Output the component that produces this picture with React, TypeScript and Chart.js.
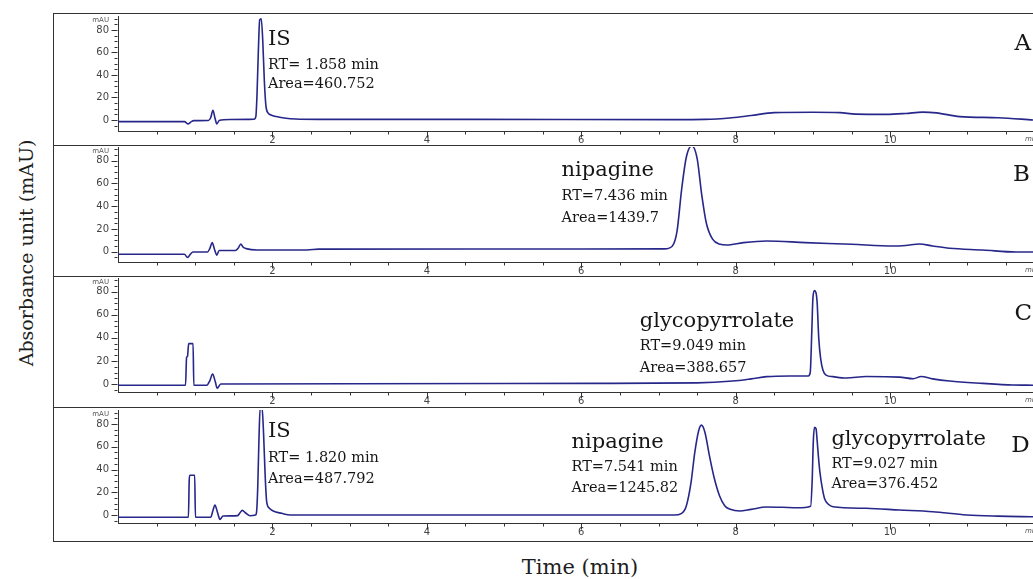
import React, { useEffect, useRef } from "react";
import { Chart, registerables } from "chart.js";

Chart.register(...registerables);

// ---------- data (time in min, absorbance in mAU) ----------
const timeA = [0, 0.86, 0.91, 0.95, 0.98, 1.17, 1.2, 1.23, 1.255, 1.28, 1.31, 1.45, 1.76, 1.785, 1.8, 1.818, 1.835, 1.855, 1.875, 1.895, 1.915, 1.94, 1.98, 2.05, 2.15, 2.3, 2.6, 4.5, 7.2, 7.6, 7.95, 8.2, 8.5, 9.0, 9.35, 9.55, 9.95, 10.2, 10.42, 10.6, 10.9, 11.4, 11.85];
const absA = [-1.5, -1.5, -3.5, -1.5, -0.6, -0.5, 2, 8.6, 2, -3.5, -0.5, 0.4, 0.6, 3, 22, 62, 89, 90, 70, 35, 13, 6.5, 4.5, 3, 1.8, 0.8, 0.5, 0.5, 0.3, 0.5, 2, 4, 6.5, 6.8, 6.5, 5.2, 5, 5.8, 7, 6.3, 3, 2, 0];

const timeB = [0, 0.86, 0.9, 0.94, 0.97, 1.16, 1.19, 1.22, 1.25, 1.28, 1.31, 1.52, 1.56, 1.59, 1.62, 1.66, 1.8, 2.45, 2.6, 4.5, 7.08, 7.18, 7.24, 7.3, 7.36, 7.43, 7.5, 7.56, 7.62, 7.7, 7.8, 7.88, 8.1, 8.4, 8.9, 9.5, 10.04, 10.2, 10.38, 10.55, 10.77, 11.2, 11.63, 11.85];
const absB = [-2.3, -2.3, -5, -2, -0.3, -0.2, 3, 8, 2, -3, 1, 1, 3.5, 6.8, 4, 2.7, 1.5, 1.5, 2.3, 2.4, 2.5, 5, 18, 55, 83, 93, 82, 50, 25, 11, 6.5, 5.9, 8, 9.4, 8, 6.5, 5, 5.5, 6.8, 5, 3, 1.5, -0.3, -0.3];

const timeC = [0, 0.875, 0.888, 0.9, 0.915, 0.972, 0.982, 1.15, 1.19, 1.225, 1.26, 1.285, 1.33, 3, 6.2, 7.5, 7.96, 8.2, 8.4, 8.7, 8.94, 8.965, 8.985, 9.0, 9.02, 9.04, 9.055, 9.075, 9.1, 9.13, 9.17, 9.26, 9.43, 9.69, 10.12, 10.3, 10.4, 10.55, 10.77, 11.2, 11.59, 11.85];
const absC = [-1, -1, 23, 24, 35, 35, -1, -1, 3, 8.7, 2, -3.7, 0, 0.2, 0.6, 1, 2.6, 4.5, 6.4, 7, 7, 10, 45, 75, 81, 79, 70, 40, 22, 12, 7.8, 6.4, 5.2, 6.5, 6, 4.6, 6.5, 4.5, 2.6, 0.6, -0.8, -1];

const timeD = [0, 0.912, 0.922, 0.93, 0.993, 1.003, 1.2, 1.23, 1.255, 1.29, 1.32, 1.36, 1.55, 1.58, 1.61, 1.65, 1.71, 1.78, 1.795, 1.81, 1.826, 1.842, 1.865, 1.885, 1.905, 1.925, 1.96, 2.01, 2.12, 2.23, 4.5, 7.2, 7.3, 7.36, 7.42, 7.47, 7.52, 7.555, 7.6, 7.66, 7.72, 7.79, 7.86, 7.93, 8.05, 8.2, 8.4, 8.6, 8.8, 8.97, 8.99, 9.005, 9.02, 9.04, 9.055, 9.075, 9.09, 9.12, 9.15, 9.2, 9.26, 9.69, 10.12, 10.55, 10.99, 11.4, 11.85];
const absD = [-2, -2, 30, 35, 35, -2, -2, 4, 8.8, 2, -3.8, -0.9, -0.5, 2, 4.1, 2, -0.6, 0, 3, 25, 68, 95, 95, 72, 36, 12, 6, 3.5, 1.5, 0, 0, 0, 1.5, 8, 28, 55, 74, 79, 73, 52, 33, 17, 8, 5, 3.5, 5, 7, 6.8, 6.4, 7.8, 30, 65, 77, 76, 65, 48, 38, 24, 14.6, 9.5, 7.3, 5.9, 4.4, 2.9, 0, -1, -1.5];

// ---------- ticks ----------
const yTickValues = [0, 20, 40, 60, 80];
const yMinorValues = [-5, 5, 10, 15, 25, 30, 35, 45, 50, 55, 65, 70, 75, 85, 90];
const xTickValues = [0.5, 1, 1.5, 2, 2.5, 3, 3.5, 4, 4.5, 5, 5.5, 6, 6.5, 7, 7.5, 8, 8.5, 9, 9.5, 10, 10.5, 11, 11.5];
const xLabelValues = [2, 4, 6, 8, 10];
const X_MAX = 11.85;

// ---------- annotations ----------
type Note = { text: string; t: number; v: number; size: number };

const notesA: Note[] = [
  { text: "IS", t: 1.942, v: 66.7, size: 21 },
  { text: "RT= 1.858 min", t: 1.942, v: 45.0, size: 14.5 },
  { text: "Area=460.752", t: 1.942, v: 28.2, size: 14.5 },
  { text: "A", t: 11.61, v: 62.2, size: 23 },
];
const notesB: Note[] = [
  { text: "nipagine", t: 5.744, v: 66.8, size: 21 },
  { text: "RT=7.436 min", t: 5.744, v: 45.4, size: 14.5 },
  { text: "Area=1439.7", t: 5.744, v: 26.4, size: 14.5 },
  { text: "B", t: 11.59, v: 62.2, size: 23 },
];
const notesC: Note[] = [
  { text: "glycopyrrolate", t: 6.757, v: 49.7, size: 21 },
  { text: "RT=9.049 min", t: 6.757, v: 29.5, size: 14.5 },
  { text: "Area=388.657", t: 6.757, v: 10.7, size: 14.5 },
  { text: "C", t: 11.61, v: 55.5, size: 23 },
];
const notesD: Note[] = [
  { text: "IS", t: 1.942, v: 68.8, size: 21 },
  { text: "RT= 1.820 min", t: 1.942, v: 46.9, size: 14.5 },
  { text: "Area=487.792", t: 1.942, v: 27.9, size: 14.5 },
  { text: "nipagine", t: 5.873, v: 58.6, size: 21 },
  { text: "RT=7.541 min", t: 5.873, v: 38.7, size: 14.5 },
  { text: "Area=1245.82", t: 5.873, v: 20.0, size: 14.5 },
  { text: "glycopyrrolate", t: 9.239, v: 61.5, size: 21 },
  { text: "RT=9.027 min", t: 9.239, v: 41.1, size: 14.5 },
  { text: "Area=376.452", t: 9.239, v: 23.5, size: 14.5 },
  { text: "D", t: 11.569, v: 55.6, size: 23 },
];

type Panel = {
  key: string;
  time: number[];
  abs: number[];
  notes: Note[];
  yMin: number;
  yMax: number;
  canvasTop: number;
  canvasHeight: number;
  padTop: number;
  areaBottom: number;
};

const panels: Panel[] = [
  { key: "A", time: timeA, abs: absA, notes: notesA, yMin: -9.8, yMax: 92.4, canvasTop: 14, canvasHeight: 132, padTop: 2, areaBottom: 117 },
  { key: "B", time: timeB, abs: absB, notes: notesB, yMin: -9.05, yMax: 92, canvasTop: 147, canvasHeight: 130, padTop: 0, areaBottom: 115 },
  { key: "C", time: timeC, abs: absC, notes: notesC, yMin: -6.9, yMax: 91.9, canvasTop: 278, canvasHeight: 130, padTop: 0, areaBottom: 114 },
  { key: "D", time: timeD, abs: absD, notes: notesD, yMin: -7, yMax: 92.3, canvasTop: 409, canvasHeight: 132, padTop: 1, areaBottom: 114 },
];

const CANVAS_LEFT = 54;
const CANVAS_WIDTH = 979;
const Y_AXIS_WIDTH = 64;
const LINE_COLOR = "#27278a";
const AXIS_COLOR = "#333";

function PanelChart({ panel }: { panel: Panel }) {
  const ref = useRef<HTMLCanvasElement | null>(null);

  useEffect(() => {
    if (!ref.current) return;
    const decor = {
      id: "decor" + panel.key,
      afterDraw(chart: any) {
        const { ctx, chartArea, scales } = chart;
        const xs = scales.x;
        const ys = scales.y;
        ctx.save();
        ctx.strokeStyle = AXIS_COLOR;
        ctx.lineWidth = 1;
        const left = Math.round(chartArea.left) - 0.5;
        const bottom = Math.round(chartArea.bottom) + 0.5;
        ctx.beginPath();
        yTickValues.forEach((v) => {
          const py = Math.round(ys.getPixelForValue(v)) + 0.5;
          ctx.moveTo(left - 6, py);
          ctx.lineTo(left, py);
        });
        yMinorValues.forEach((v) => {
          if (v < panel.yMin || v > panel.yMax) return;
          const py = Math.round(ys.getPixelForValue(v)) + 0.5;
          ctx.moveTo(left - 3, py);
          ctx.lineTo(left, py);
        });
        xTickValues.forEach((t) => {
          const px = Math.round(xs.getPixelForValue(t)) + 0.5;
          const len = xLabelValues.includes(t) ? 6 : 3;
          ctx.moveTo(px, bottom);
          ctx.lineTo(px, bottom + len);
        });
        ctx.stroke();

        ctx.fillStyle = "#555";
        ctx.font = '7px "DejaVu Sans"';
        ctx.textAlign = "right";
        ctx.textBaseline = "alphabetic";
        ctx.fillText("mAU", chartArea.left - 9, chartArea.top + 6);
        ctx.textAlign = "left";
        ctx.font = 'italic 7px "DejaVu Sans"';
        ctx.fillText("min", chartArea.right - 8, bottom + 9);

        ctx.fillStyle = "#161616";
        ctx.textAlign = "left";
        panel.notes.forEach((n) => {
          ctx.font = `${n.size}px "DejaVu Serif"`;
          ctx.fillText(n.text, xs.getPixelForValue(n.t), ys.getPixelForValue(n.v));
        });
        ctx.restore();
      },
    };

    const chart = new Chart(ref.current, {
      type: "line",
      data: {
        datasets: [
          {
            data: panel.time.map((t, i) => ({ x: t, y: panel.abs[i] })),
            borderColor: LINE_COLOR,
            borderWidth: 1.6,
            pointRadius: 0,
            fill: false,
            cubicInterpolationMode: "monotone",
          },
        ],
      },
      options: {
        animation: false,
        responsive: false,
        maintainAspectRatio: false,
        events: [],
        layout: { padding: { top: panel.padTop, right: 0, bottom: 0, left: 0 } },
        plugins: { legend: { display: false }, tooltip: { enabled: false } },
        scales: {
          x: {
            type: "linear",
            min: 0,
            max: X_MAX,
            border: { display: true, color: AXIS_COLOR, width: 1 },
            grid: { display: false, drawTicks: false },
            ticks: {
              autoSkip: false,
              maxRotation: 0,
              padding: 3,
              color: "#444",
              font: { family: "DejaVu Sans", size: 10 },
              callback: (v: any) => (xLabelValues.includes(Number(v)) ? String(v) : ""),
            },
            afterBuildTicks: (s: any) => {
              s.ticks = xTickValues.map((value) => ({ value }));
            },
            afterFit: (s: any) => {
              s.height = panel.canvasHeight - panel.areaBottom;
              s.paddingLeft = 0;
              s.paddingRight = 0;
            },
          },
          y: {
            type: "linear",
            min: panel.yMin,
            max: panel.yMax,
            border: { display: true, color: AXIS_COLOR, width: 1 },
            grid: { display: false, drawTicks: false },
            ticks: {
              padding: 9,
              color: "#444",
              font: { family: "DejaVu Sans", size: 10 },
              callback: (v: any) => String(v),
            },
            afterBuildTicks: (s: any) => {
              s.ticks = yTickValues.map((value) => ({ value }));
            },
            afterFit: (s: any) => {
              s.width = Y_AXIS_WIDTH;
              s.paddingTop = 0;
              s.paddingBottom = 0;
            },
          },
        },
      } as any,
      plugins: [decor],
    });
    return () => chart.destroy();
  }, [panel]);

  return (
    <canvas
      ref={ref}
      width={CANVAS_WIDTH}
      height={panel.canvasHeight}
      style={{
        position: "absolute",
        left: CANVAS_LEFT,
        top: panel.canvasTop,
        width: CANVAS_WIDTH,
        height: panel.canvasHeight,
        display: "block",
      }}
    />
  );
}

const separatorTops = [146, 277, 408];

export default function App() {
  return (
    <div
      style={{
        position: "fixed",
        left: 0,
        top: 0,
        width: 1033,
        height: 579,
        overflow: "hidden",
        background: "#fff",
      }}
    >
      <div
        style={{
          position: "absolute",
          left: 53,
          top: 13,
          width: 1100,
          height: 529,
          border: "1.5px solid #333",
          boxSizing: "border-box",
        }}
      />
      {separatorTops.map((t) => (
        <div
          key={t}
          style={{
            position: "absolute",
            left: 53,
            top: t - 0.75,
            width: 1100,
            height: 0,
            borderTop: "1.5px solid #333",
          }}
        />
      ))}
      {panels.map((p) => (
        <PanelChart key={p.key} panel={p} />
      ))}
      <div
        style={{
          position: "absolute",
          left: 26,
          top: 253,
          transform: "translate(-50%, -50%) rotate(-90deg)",
          fontFamily: '"DejaVu Serif"',
          fontSize: 19,
          lineHeight: "19px",
          color: "#1e1e1e",
          whiteSpace: "nowrap",
        }}
      >
        Absorbance unit (mAU)
      </div>
      <div
        style={{
          position: "absolute",
          left: 580,
          top: 557,
          transform: "translateX(-50%)",
          fontFamily: '"DejaVu Serif"',
          fontSize: 21,
          lineHeight: "21px",
          color: "#1e1e1e",
          whiteSpace: "nowrap",
        }}
      >
        Time (min)
      </div>
    </div>
  );
}
